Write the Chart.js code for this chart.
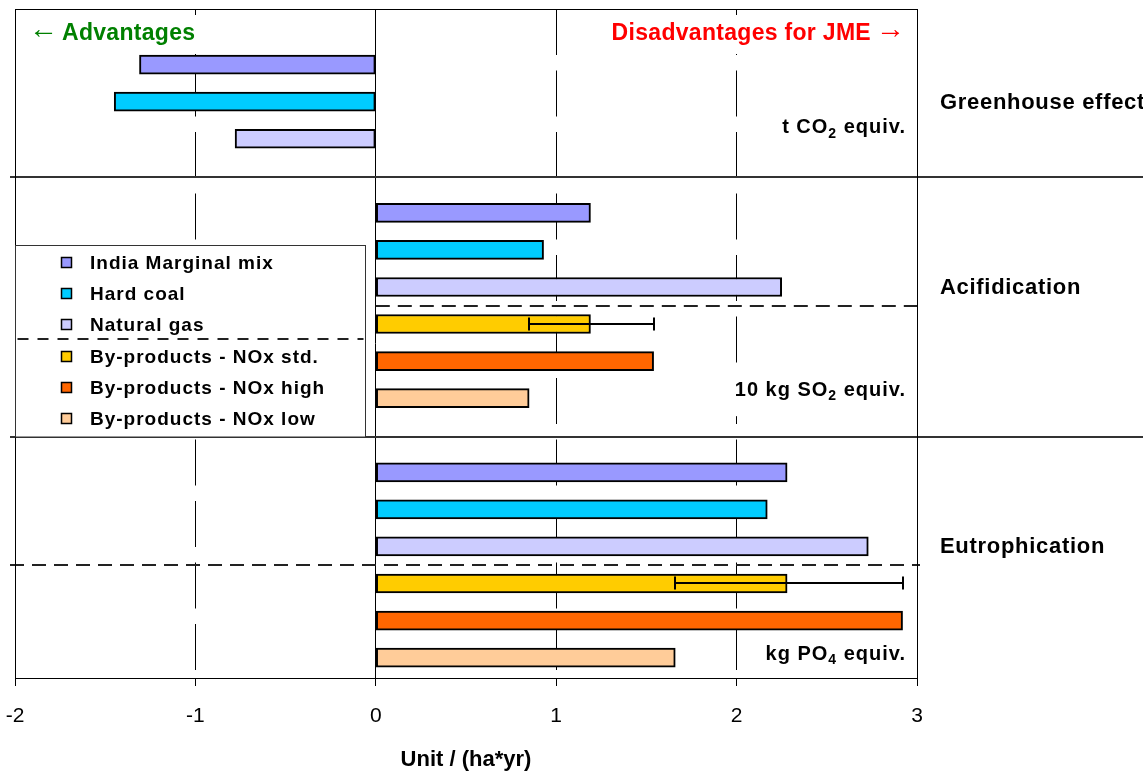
<!DOCTYPE html>
<html>
<head>
<meta charset="utf-8">
<script src="https://cdn.jsdelivr.net/npm/chart.js@4.4.1/dist/chart.umd.min.js"></script>
<style>
  html, body { margin: 0; padding: 0; background: #fff; }
  canvas { display: block; }
</style>
</head>
<body>
<canvas id="lca" width="1143" height="771"></canvas>
<script>
// Impact categories (top to bottom) and their reference units (text, subscript, text)
const impacts = ['Greenhouse effect', 'Acifidication', 'Eutrophication'];
const impactUnits = [
  ['t CO', '2', ' equiv.'],
  ['10 kg SO', '2', ' equiv.'],
  ['kg PO', '4', ' equiv.']
];

// Compared systems
const seriesNames = [
  'India Marginal mix',
  'Hard coal',
  'Natural gas',
  'By-products - NOx std.',
  'By-products - NOx high',
  'By-products - NOx low'
];

// Values per impact category, Unit / (ha*yr); null = not assessed
const indiaMix   = [-1.31, 1.19, 2.28];
const hardCoal   = [-1.45, 0.93, 2.17];
const naturalGas = [-0.78, 2.25, 2.73];
const noxStd     = [null, 1.19, 2.28];
const noxHigh    = [null, 1.54, 2.92];
const noxLow     = [null, 0.85, 1.66];

// Uncertainty range of the standard NOx case
const noxStdRange = [null, [0.85, 1.54], [1.66, 2.92]];

const xTicks = [-2, -1, 0, 1, 2, 3];
const axisTitle = 'Unit / (ha*yr)';
const advantageText = 'Advantages';
const disadvantageText = 'Disadvantages for JME';

// ---- styling ----
const FONT = '"Liberation Sans", Arial, sans-serif';
const seriesColors = ['#9999FF', '#00CCFF', '#CCCCFF', '#FFCC00', '#FF6600', '#FFCC99'];
const seriesValues = [indiaMix, hardCoal, naturalGas, noxStd, noxHigh, noxLow];
const STD_INDEX = 3;

// Row layout: each impact category is a block of rows with one spacer row between blocks
const sectionCount = impacts.map((_, i) => seriesValues.filter(v => v[i] != null).length);
const sectionStart = [];
(function () {
  let r = 0;
  impacts.forEach((_, i) => { sectionStart.push(r); r += sectionCount[i] + 1; });
})();
const rowOf = (i, s) => sectionStart[i] + s;
const lastRow = sectionStart[impacts.length - 1] + sectionCount[impacts.length - 1] - 1;

const datasets = seriesNames.map((name, s) => ({
  label: name,
  data: seriesValues[s]
    .map((v, i) => (v == null ? null : { x: v, y: rowOf(i, s) }))
    .filter(p => p !== null),
  backgroundColor: seriesColors[s],
  borderColor: '#000',
  borderWidth: 2,
  borderSkipped: false,
  barThickness: 19,
  grouped: false
}));

// legend geometry
const LEG = { left: 15.5, top: 245.5, right: 365.5, bottom: 437 };
// vertical offsets of the unit labels from the last bar of each category, and their backing boxes
const unitOffsets = [-11, -8, -3];
const unitBoxHalf = [26, 26, 14];

function drawSpaced(ctx, text, x, y, font, spacing, align) {
  ctx.font = font;
  ctx.letterSpacing = spacing + 'px';
  ctx.textAlign = align || 'left';
  ctx.fillText(text, x, y);
  ctx.letterSpacing = '0px';
}

function unitWidth(ctx, parts) {
  ctx.letterSpacing = '1px';
  ctx.font = 'bold 20px ' + FONT;
  let w = ctx.measureText(parts[0]).width + ctx.measureText(parts[2]).width;
  ctx.font = 'bold 14px ' + FONT;
  w += ctx.measureText(parts[1]).width;
  ctx.letterSpacing = '0px';
  return w;
}

function drawUnit(ctx, parts, right, y) {
  const w = unitWidth(ctx, parts);
  let x = right - w;
  ctx.textAlign = 'left';
  ctx.textBaseline = 'middle';
  ctx.letterSpacing = '1px';
  ctx.font = 'bold 20px ' + FONT;
  ctx.fillText(parts[0], x, y);
  x += ctx.measureText(parts[0]).width;
  ctx.font = 'bold 14px ' + FONT;
  ctx.fillText(parts[1], x, y + 6);
  x += ctx.measureText(parts[1]).width;
  ctx.font = 'bold 20px ' + FONT;
  ctx.fillText(parts[2], x, y);
  ctx.letterSpacing = '0px';
}

const overlay = {
  id: 'overlay',
  // white text boxes hide the grid lines behind the labels
  beforeDatasetsDraw(chart) {
    const { ctx, chartArea: a, scales: { y } } = chart;
    ctx.save();
    ctx.fillStyle = '#fff';
    ctx.fillRect(25, 15, 175, 39);
    ctx.fillRect(605, 15, 303, 39);
    impacts.forEach((_, i) => {
      const py = y.getPixelForValue(sectionStart[i] + sectionCount[i] - 1) + unitOffsets[i];
      const w = unitWidth(ctx, impactUnits[i]);
      ctx.fillRect(a.right - 11 - w - 6, py - unitBoxHalf[i], w + 12, unitBoxHalf[i] * 2);
    });
    ctx.restore();
  },
  afterDatasetsDraw(chart) {
    const { ctx, chartArea: a, scales: { x, y } } = chart;
    const W = chart.width;
    ctx.save();

    // error bars of the standard NOx case
    ctx.strokeStyle = '#000';
    ctx.lineWidth = 2;
    noxStdRange.forEach((rg, i) => {
      if (!rg) return;
      const py = Math.round(y.getPixelForValue(rowOf(i, STD_INDEX)));
      const x0 = Math.round(x.getPixelForValue(rg[0]));
      const x1 = Math.round(x.getPixelForValue(rg[1]));
      ctx.beginPath();
      ctx.moveTo(x0, py); ctx.lineTo(x1, py);
      ctx.moveTo(x0, py - 6.5); ctx.lineTo(x0, py + 6.5);
      ctx.moveTo(x1, py - 6.5); ctx.lineTo(x1, py + 6.5);
      ctx.stroke();
    });

    // solid separators between impact categories
    ctx.strokeStyle = '#333';
    ctx.lineWidth = 2;
    for (let i = 1; i < impacts.length; i++) {
      const py = Math.round(y.getPixelForValue(sectionStart[i] - 1 + 0.04));
      ctx.beginPath(); ctx.moveTo(10, py); ctx.lineTo(W, py); ctx.stroke();
    }

    // dashed split between power mixes and by-product cases
    ctx.strokeStyle = '#222';
    ctx.setLineDash([14, 8]);
    impacts.forEach((_, i) => {
      if (sectionCount[i] <= STD_INDEX) return;
      const py = Math.round(y.getPixelForValue(sectionStart[i] + STD_INDEX - 0.5));
      const x0 = (py > LEG.top && py < LEG.bottom) ? x.getPixelForValue(0) : 10;
      ctx.beginPath(); ctx.moveTo(x0, py); ctx.lineTo(a.right + 3, py); ctx.stroke();
    });
    ctx.setLineDash([]);

    // plot frame
    ctx.strokeStyle = '#000';
    ctx.lineWidth = 1;
    ctx.strokeRect(Math.round(a.left) + 0.5, Math.round(a.top) + 0.5,
                   Math.round(a.right - a.left), Math.round(a.bottom - a.top));

    // header labels
    ctx.textBaseline = 'middle';
    ctx.fillStyle = '#008000';
    drawSpaced(ctx, '\u2190', 29, 30, '29px ' + FONT, 0, 'left');
    drawSpaced(ctx, advantageText, 62, 34, 'bold 23px ' + FONT, 0.3, 'left');
    ctx.fillStyle = '#FF0000';
    drawSpaced(ctx, disadvantageText, 871, 34, 'bold 23px ' + FONT, 0.3, 'right');
    drawSpaced(ctx, '\u2192', 876, 30, '29px ' + FONT, 0, 'left');

    // unit labels, placed near the last bar of each category
    ctx.fillStyle = '#000';
    impacts.forEach((_, i) => {
      const py = y.getPixelForValue(sectionStart[i] + sectionCount[i] - 1) + unitOffsets[i];
      drawUnit(ctx, impactUnits[i], a.right - 11, py);
    });

    // category names right of the plot
    ctx.fillStyle = '#000';
    impacts.forEach((name, i) => {
      const first = sectionStart[i];
      const last = first + sectionCount[i] - 1;
      const py = y.getPixelForValue(Math.floor((first + last) / 2));
      drawSpaced(ctx, name, a.right + 23, py + 1, 'bold 22px ' + FONT, 0.7, 'left');
    });

    // legend
    ctx.fillStyle = '#fff';
    ctx.fillRect(LEG.left, LEG.top, LEG.right - LEG.left, LEG.bottom - LEG.top);
    ctx.strokeStyle = '#333';
    ctx.lineWidth = 1;
    ctx.strokeRect(LEG.left, LEG.top, LEG.right - LEG.left, LEG.bottom - LEG.top);
    chart.data.datasets.forEach((ds, k) => {
      const cy = Math.round(LEG.top + 17 + k * 31 + (k >= STD_INDEX ? 1.5 : 0));
      ctx.fillStyle = ds.backgroundColor;
      ctx.fillRect(61.5, cy - 5.5, 10, 10);
      ctx.strokeStyle = '#000';
      ctx.lineWidth = 1.5;
      ctx.strokeRect(61.5, cy - 5.5, 10, 10);
      ctx.fillStyle = '#000';
      drawSpaced(ctx, ds.label, 90, cy + 1, 'bold 19px ' + FONT, 1, 'left');
    });
    ctx.strokeStyle = '#222';
    ctx.lineWidth = 2;
    ctx.setLineDash([11, 9]);
    ctx.beginPath();
    ctx.moveTo(LEG.left + 2, 339); ctx.lineTo(LEG.right - 2, 339);
    ctx.stroke();
    ctx.setLineDash([]);

    ctx.restore();
  }
};

new Chart(document.getElementById('lca'), {
  type: 'bar',
  data: { datasets },
  options: {
    indexAxis: 'y',
    responsive: false,
    animation: false,
    devicePixelRatio: 1,
    layout: { padding: { left: 15, right: 226, top: 9, bottom: 0 } },
    plugins: { legend: { display: false }, tooltip: { enabled: false } },
    scales: {
      x: {
        type: 'linear',
        position: 'bottom',
        min: xTicks[0],
        max: xTicks[xTicks.length - 1],
        afterBuildTicks: s => { s.ticks = xTicks.map(v => ({ value: v })); },
        afterFit: s => { s.height = 93; s.paddingLeft = 0; s.paddingRight = 0; },
        grid: { color: '#000', lineWidth: 1, tickLength: 8, tickColor: '#000', drawTicks: true },
        border: {
          display: true, color: '#000', width: 1,
          dash: c => {
            const v = c.tick ? c.tick.value : 0;
            return (v !== 0 && v > xTicks[0] && v < xTicks[xTicks.length - 1]) ? [46, 15.5] : [];
          }
        },
        ticks: { color: '#000', font: { family: FONT, size: 21 }, padding: 18 },
        title: {
          display: true, text: axisTitle, color: '#000',
          font: { family: FONT, size: 22, weight: 'bold', lineHeight: 1 },
          padding: { top: 0, bottom: 0 }
        }
      },
      y: {
        type: 'linear',
        display: false,
        reverse: true,
        offset: false,
        min: -1.5,
        max: lastRow + 0.55
      }
    }
  },
  plugins: [overlay]
});
</script>
</body>
</html>
